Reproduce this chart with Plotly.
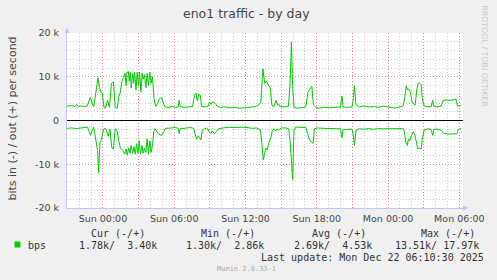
import plotly.graph_objects as go
import pandas as pd

# ---------------- data (kbit/s) ----------------
out_times = [
    "20 20:58", "20 21:22", "20 21:38", "20 21:47", "20 21:58", "20 22:12", "20 22:28", "20 22:40",
    "20 22:50", "20 22:57", "20 23:05", "20 23:13", "20 23:23", "20 23:35", "20 23:43", "20 23:48",
    "20 23:57", "21 00:05", "21 00:13", "21 00:23", "21 00:33", "21 00:43", "21 00:53", "21 01:02",
    "21 01:12", "21 01:20", "21 01:27", "21 01:35", "21 01:43", "21 01:52", "21 01:57", "21 02:02",
    "21 02:08", "21 02:13", "21 02:18", "21 02:23", "21 02:30", "21 02:35", "21 02:40", "21 02:47",
    "21 02:53", "21 03:00", "21 03:05", "21 03:12", "21 03:18", "21 03:23", "21 03:30", "21 03:37",
    "21 03:43", "21 03:50", "21 03:57", "21 04:03", "21 04:10", "21 04:18", "21 04:27", "21 04:35",
    "21 04:45", "21 04:57", "21 05:05", "21 05:13", "21 05:33", "21 05:50", "21 06:07", "21 06:20",
    "21 06:25", "21 06:30", "21 06:48", "21 07:13", "21 07:33", "21 07:42", "21 07:50", "21 07:57",
    "21 08:03", "21 08:12", "21 08:18", "21 08:37", "21 08:50", "21 08:58", "21 09:07", "21 09:15",
    "21 09:27", "21 09:37", "21 09:52", "21 10:17", "21 10:42", "21 11:07", "21 11:32", "21 11:57",
    "21 12:13", "21 12:30", "21 12:55", "21 13:17", "21 13:28", "21 13:37", "21 13:45", "21 13:57",
    "21 14:05", "21 14:13", "21 14:23", "21 14:35", "21 14:42", "21 14:48", "21 14:55", "21 15:17",
    "21 15:37", "21 15:45", "21 15:52", "21 15:58", "21 16:05", "21 16:23", "21 16:48", "21 17:05",
    "21 17:15", "21 17:25", "21 17:35", "21 17:43", "21 17:52", "21 18:07", "21 18:37", "21 19:10",
    "21 19:43", "21 20:00", "21 20:07", "21 20:13", "21 20:33", "21 20:58", "21 21:05", "21 21:10",
    "21 21:18", "21 21:32", "21 21:57", "21 22:22", "21 22:47", "21 23:12", "21 23:37", "22 00:02",
    "22 00:27", "22 00:35", "22 01:00", "22 01:17", "22 01:25", "22 01:32", "22 01:38", "22 01:45",
    "22 01:53", "22 02:00", "22 02:08", "22 02:17", "22 02:25", "22 02:32", "22 02:38", "22 02:47",
    "22 02:53", "22 03:02", "22 03:22", "22 03:38", "22 03:45", "22 03:52", "22 04:12", "22 04:28",
    "22 04:37", "22 04:53", "22 05:13", "22 05:30", "22 05:43", "22 05:50", "22 06:00", "22 06:08",
]
out_vals = [
    3.3, 3.4, 3.2, 3.7, 3.2, 3.3, 3.2, 3.3,
    4.5, 5.3, 4.0, 3.1, 6.0, 9.8, 7.5, 6.5,
    6.3, 3.0, 2.8, 4.6, 3.0, 8.5, 8.8, 3.0,
    2.8, 5.5, 6.3, 8.8, 9.8, 10.8, 8.0, 11.0,
    11.2, 9.0, 11.0, 7.5, 10.8, 8.5, 11.0, 7.0,
    11.0, 8.0, 11.1, 6.5, 10.8, 9.5, 10.5, 7.5,
    10.8, 8.0, 11.0, 8.5, 10.0, 5.0, 3.2, 3.8,
    5.0, 5.2, 4.0, 3.1, 3.0, 3.2, 3.0, 3.1,
    4.6, 3.2, 3.0, 3.1, 3.2, 5.8, 6.2, 4.5,
    6.0, 5.8, 3.2, 3.1, 3.2, 4.2, 3.7, 4.3,
    3.9, 3.3, 3.0, 3.1, 2.9, 3.0, 2.8, 2.9,
    3.0, 3.1, 3.2, 4.0, 11.8, 8.5, 9.0, 8.0,
    7.5, 3.5, 3.2, 4.6, 3.5, 3.7, 3.2, 3.1,
    3.3, 8.5, 17.9, 8.0, 3.0, 2.8, 3.0, 3.1,
    6.5, 7.2, 7.8, 3.5, 3.1, 2.8, 3.0, 2.9,
    3.0, 3.1, 5.6, 3.1, 3.0, 3.1, 5.0, 8.0,
    3.7, 3.1, 3.3, 3.1, 3.2, 3.0, 3.3, 3.1,
    3.0, 2.8, 3.1, 3.4, 5.5, 8.0, 7.0, 7.2,
    6.5, 4.5, 3.8, 3.5, 7.0, 8.5, 8.6, 8.2,
    5.0, 3.4, 3.1, 3.2, 4.6, 3.2, 3.1, 3.3,
    4.5, 4.7, 4.6, 4.8, 4.9, 3.3, 3.3, 3.4,
]

in_times = [
    "20 20:58", "20 21:22", "20 21:47", "20 22:12", "20 22:33", "20 22:42", "20 22:50", "20 22:57",
    "20 23:05", "20 23:13", "20 23:22", "20 23:28", "20 23:33", "20 23:38", "20 23:45", "20 23:52",
    "21 00:00", "21 00:08", "21 00:17", "21 00:27", "21 00:35", "21 00:45", "21 00:53", "21 01:02",
    "21 01:12", "21 01:20", "21 01:28", "21 01:40", "21 01:50", "21 01:57", "21 02:03", "21 02:10",
    "21 02:17", "21 02:23", "21 02:30", "21 02:37", "21 02:43", "21 02:50", "21 02:57", "21 03:03",
    "21 03:10", "21 03:17", "21 03:23", "21 03:30", "21 03:37", "21 03:43", "21 03:50", "21 03:57",
    "21 04:03", "21 04:10", "21 04:17", "21 04:23", "21 04:33", "21 04:43", "21 04:57", "21 05:07",
    "21 05:17", "21 05:42", "21 06:07", "21 06:20", "21 06:25", "21 06:30", "21 06:57", "21 07:22",
    "21 07:38", "21 07:47", "21 07:53", "21 08:00", "21 08:08", "21 08:15", "21 08:22", "21 08:33",
    "21 08:45", "21 08:57", "21 09:05", "21 09:13", "21 09:23", "21 09:33", "21 09:43", "21 10:08",
    "21 10:33", "21 10:58", "21 11:23", "21 11:48", "21 12:13", "21 12:30", "21 12:55", "21 13:15",
    "21 13:23", "21 13:30", "21 13:37", "21 13:43", "21 13:50", "21 13:58", "21 14:07", "21 14:15",
    "21 14:23", "21 14:33", "21 14:40", "21 14:48", "21 15:00", "21 15:25", "21 15:38", "21 15:45",
    "21 15:52", "21 15:58", "21 16:05", "21 16:15", "21 16:40", "21 17:05", "21 17:13", "21 17:22",
    "21 17:33", "21 17:42", "21 17:48", "21 18:03", "21 18:37", "21 19:10", "21 19:43", "21 20:00",
    "21 20:07", "21 20:13", "21 20:33", "21 20:58", "21 21:05", "21 21:10", "21 21:18", "21 21:32",
    "21 21:57", "21 22:22", "21 22:47", "21 23:12", "21 23:37", "22 00:02", "22 00:27", "22 01:00",
    "22 01:17", "22 01:23", "22 01:30", "22 01:37", "22 01:43", "22 01:50", "22 01:58", "22 02:07",
    "22 02:15", "22 02:23", "22 02:30", "22 02:38", "22 02:47", "22 02:53", "22 03:02", "22 03:22",
    "22 03:38", "22 03:45", "22 03:52", "22 04:12", "22 04:28", "22 04:40", "22 05:02", "22 05:27",
    "22 05:47", "22 05:55", "22 06:08",
]
in_vals = [
    -1.8, -1.7, -1.85, -1.7, -1.6, -1.5, -2.5, -3.4,
    -2.4, -1.5, -3.8, -6.1, -6.9, -11.9, -5.0, -4.4,
    -2.6, -1.7, -2.2, -3.6, -1.9, -6.3, -6.5, -1.9,
    -2.4, -4.6, -6.3, -6.9, -7.7, -6.5, -7.9, -6.3,
    -7.5, -5.7, -7.5, -6.0, -7.7, -5.3, -7.5, -4.6,
    -7.7, -5.7, -7.5, -6.3, -7.3, -4.2, -7.7, -4.6,
    -7.3, -5.7, -2.6, -1.9, -2.6, -3.2, -3.4, -2.4,
    -1.8, -1.7, -1.6, -1.8, -3.0, -1.9, -1.7, -1.6,
    -1.8, -3.4, -4.3, -3.6, -3.8, -4.4, -2.2, -1.9,
    -1.7, -2.6, -3.0, -2.4, -3.0, -2.6, -1.9, -1.7,
    -1.55, -1.6, -1.5, -1.55, -1.6, -1.8, -1.7, -2.1,
    -5.3, -9.0, -7.3, -6.3, -6.7, -5.0, -4.2, -2.4,
    -1.9, -2.4, -1.9, -2.2, -1.7, -1.7, -1.9, -4.6,
    -9.2, -13.5, -2.2, -1.5, -1.55, -1.6, -3.0, -4.2,
    -5.0, -5.2, -1.9, -1.7, -1.8, -1.85, -1.9, -1.9,
    -4.0, -2.1, -2.0, -2.0, -3.4, -5.7, -2.4, -1.9,
    -2.0, -1.85, -2.0, -1.85, -1.9, -1.85, -1.9, -1.85,
    -1.9, -2.6, -5.0, -5.7, -4.2, -4.6, -3.4, -2.6,
    -3.2, -4.6, -6.5, -6.3, -6.5, -4.2, -2.2, -1.9,
    -2.1, -3.4, -2.0, -2.0, -2.2, -2.9, -3.1, -3.1,
    -3.0, -2.0, -1.85,
]

y_tick_vals = [-20, -10, 0, 10, 20]
y_tick_text = ["-20 k", "-10 k", "0", "10 k", "20 k"]

legend_cols = ["Cur (-/+)", "Min (-/+)", "Avg (-/+)", "Max (-/+)"]
legend_in = ["1.78k", "1.30k", "2.69k", "13.51k"]
legend_out = ["3.40k", "2.86k", "4.53k", "17.97k"]
series_name = "bps"
last_update = "Last update: Mon Dec 22 06:10:30 2025"

# ---------------- layout helpers ----------------
W, H = 497, 280
L, R, T, B = 67, 467, 33, 208
def px(x): return (x - L) / (R - L)
def py(y): return (B - y) / (B - T)

def ts(s):
    return pd.Timestamp("2025-12-" + s)

GREEN = "#00CC00"
fig = go.Figure()
fig.add_trace(go.Scatter(x=[ts(s) for s in out_times], y=out_vals, mode="lines",
                         line=dict(color=GREEN, width=1), hoverinfo="skip", showlegend=False))
fig.add_trace(go.Scatter(x=[ts(s) for s in in_times], y=in_vals, mode="lines",
                         line=dict(color=GREEN, width=1), hoverinfo="skip", showlegend=False))

x_start = pd.Timestamp("2025-12-20 20:58:30")
x_end = x_start + pd.Timedelta(minutes=2000)
major = pd.date_range("2025-12-20 21:00", "2025-12-22 06:00", freq="3h")
major_text = [d.strftime("%a %H:%M") if d.hour % 6 == 0 else "" for d in major]

FONT = "DejaVu Sans"
MONO = "DejaVu Sans Mono"
MAJ = "rgba(225,90,90,0.55)"
MIN = "#CFCFCF"

fig.update_layout(
    width=W, height=H,
    margin=dict(l=L, r=W - R, t=T, b=H - B, pad=0),
    paper_bgcolor="#F0F0F0", plot_bgcolor="white",
    font=dict(family=FONT, size=9.5, color="#444"),
    showlegend=False,
    xaxis=dict(
        range=[x_start, x_end], tickmode="array", tickvals=major, ticktext=major_text,
        showgrid=True, gridcolor=MAJ, griddash="1px,2px", gridwidth=1,
        minor=dict(dtick=3600000, tick0="2025-12-20 21:00", showgrid=True,
                   gridcolor=MIN, griddash="1px,2px", gridwidth=1),
        showline=True, linecolor="#C4C4F0", linewidth=1,
        zeroline=False, ticks="", tickfont=dict(size=9.5, color="#444"),
        ticklabelstandoff=2, fixedrange=True,
    ),
    yaxis=dict(
        range=[-20, 20], tickmode="array", tickvals=y_tick_vals, ticktext=y_tick_text,
        showgrid=True, gridcolor=MAJ, griddash="1px,2px", gridwidth=1,
        minor=dict(dtick=2, tick0=0, showgrid=True, gridcolor=MIN,
                   griddash="1px,2px", gridwidth=1),
        showline=True, linecolor="#C4C4F0", linewidth=1,
        zeroline=False, ticks="", tickfont=dict(size=9.5, color="#444"),
        ticklabelstandoff=5, fixedrange=True,
    ),
)

shapes = [
    # zero rule
    dict(type="line", xref="paper", yref="y", x0=0, x1=1, y0=0, y1=0,
         line=dict(color="black", width=1), layer="above"),
    # axis arrows
    dict(type="path", xref="paper", yref="paper",
         path=f"M {px(64.5)} {py(33)} L {px(69.5)} {py(33)} L {px(67)} {py(27.5)} Z",
         fillcolor="#C4C4F0", line=dict(width=0)),
    dict(type="path", xref="paper", yref="paper",
         path=f"M {px(467)} {py(205.5)} L {px(467)} {py(210.5)} L {px(473)} {py(208)} Z",
         fillcolor="#C4C4F0", line=dict(width=0)),
    dict(type="line", xref="paper", yref="paper", x0=1, x1=px(468), y0=0, y1=0,
         line=dict(color="#C4C4F0", width=1)),
    # legend colour box
    dict(type="rect", xref="paper", yref="paper", x0=px(14), x1=px(20), y0=py(247.5), y1=py(241.5),
         fillcolor=GREEN, line=dict(width=0)),
]
fig.update_layout(shapes=shapes)

def ann(text, x, y, size, color="#333", family=FONT, xanchor="left", angle=0):
    fig.add_annotation(text=text, x=px(x), y=py(y), xref="paper", yref="paper",
                       showarrow=False, xanchor=xanchor, yanchor="middle",
                       textangle=angle, borderpad=0,
                       font=dict(family=family, size=size, color=color))

ann("eno1 traffic - by day", 248.5, 13.5, 12.5, color="#444", xanchor="center")
ann("bits in (-) / out (+) per second", 11, 119, 11, color="#444", xanchor="center", angle=-90)
ann("RRDTOOL / TOBI OETIKER", 488.5, 56.5, 7.9, color="#C8C8C8", xanchor="center", angle=90)

NB = "\u00a0"
hdr_x = [90, 201.7, 313.3, 424]
val_x = [78.3, 185.7, 295.7, 397.3]
for i in range(4):
    ann(legend_cols[i].replace(" ", NB), hdr_x[i], 233.5, 10, family=MONO)
    txt = legend_in[i] + "/" + legend_out[i].rjust(7)
    ann(txt.replace(" ", NB), val_x[i], 245, 10, family=MONO)
ann(series_name, 26.7, 245, 10, family=MONO)
ann(last_update.replace(" ", NB), 261.7, 257.3, 10, family=MONO)
ann("Munin 2.0.33-1".replace(" ", NB), 248.5, 269.3, 7, color="#AAAAAA", family=MONO, xanchor="center")

fig.write_html("out.html", config={"displayModeBar": False})
